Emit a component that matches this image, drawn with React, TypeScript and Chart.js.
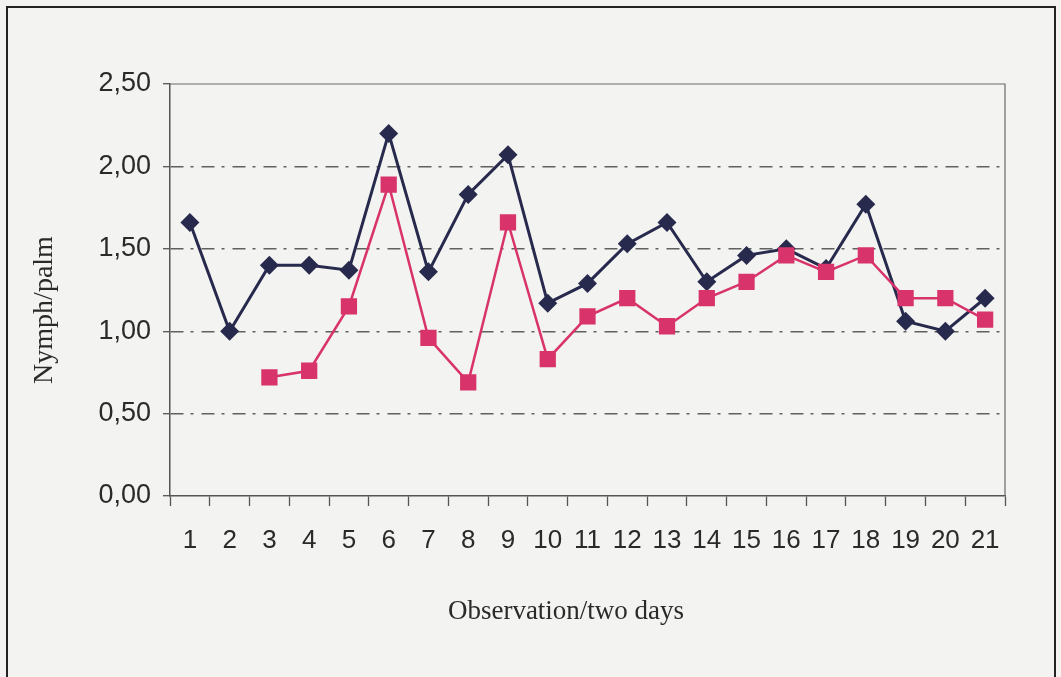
import React, { useEffect, useRef } from "react";
import { Chart, registerables } from "chart.js";

Chart.register(...registerables);

const categories: string[] = ["1","2","3","4","5","6","7","8","9","10","11","12","13","14","15","16","17","18","19","20","21"];
const seriesNavy: (number | null)[] = [1.66,1.00,1.40,1.40,1.37,2.20,1.36,1.83,2.07,1.17,1.29,1.53,1.66,1.30,1.46,1.50,1.38,1.77,1.06,1.00,1.20];
const seriesPink: (number | null)[] = [null,null,0.72,0.76,1.15,1.89,0.96,0.69,1.66,0.83,1.09,1.20,1.03,1.20,1.30,1.46,1.36,1.46,1.20,1.20,1.07];
const yTitle = "Nymph/palm";
const xTitle = "Observation/two days";

const NAVY = "#272a4c";
const PINK = "#d8336b";
const AXIS = "#555555";
const TEXT = "#2a2a2a";
const SANS = '"Liberation Sans", Arial, sans-serif';
const SERIF = '"Liberation Serif", "Times New Roman", serif';

const framePlugin = {
  id: "frameAndTitles",
  beforeDatasetsDraw(chart: any) {
    const { ctx, chartArea } = chart;
    ctx.save();
    ctx.strokeStyle = "#6a6a6a";
    ctx.lineWidth = 1.2;
    ctx.beginPath();
    ctx.moveTo(chartArea.left, chartArea.top);
    ctx.lineTo(chartArea.right, chartArea.top);
    ctx.lineTo(chartArea.right, chartArea.bottom);
    ctx.stroke();
    ctx.restore();
  },
  afterDraw(chart: any) {
    const { ctx } = chart;
    ctx.save();
    ctx.fillStyle = TEXT;
    ctx.font = `27px ${SERIF}`;
    ctx.textAlign = "center";
    ctx.textBaseline = "middle";
    ctx.fillText(xTitle, 566, 612);
    ctx.translate(45, 310);
    ctx.rotate(-Math.PI / 2);
    ctx.font = `28px ${SERIF}`;
    ctx.fillText(yTitle, 0, 0);
    ctx.restore();
  },
};

export default function App() {
  const ref = useRef<HTMLCanvasElement | null>(null);
  useEffect(() => {
    if (!ref.current) return;
    const chart = new Chart(ref.current, {
      type: "line",
      data: {
        labels: categories,
        datasets: [
          {
            label: "B",
            data: seriesPink,
            borderColor: PINK,
            backgroundColor: PINK,
            borderWidth: 2.5,
            pointStyle: "rect",
            pointRadius: 11.5,
            pointHoverRadius: 11.5,
            pointBorderWidth: 0,
            tension: 0,
            spanGaps: false,
          },
          {
            label: "A",
            data: seriesNavy,
            borderColor: NAVY,
            backgroundColor: NAVY,
            borderWidth: 3,
            pointStyle: "rectRot",
            pointRadius: 9.5,
            pointHoverRadius: 9.5,
            pointBorderWidth: 0,
            tension: 0,
          },
        ],
      },
      options: {
        animation: false,
        responsive: false,
        maintainAspectRatio: false,
        layout: { padding: { left: 0, top: 84, right: 56, bottom: 0 } },
        plugins: { legend: { display: false }, tooltip: { enabled: false }, title: { display: false } },
        scales: {
          x: {
            type: "category",
            offset: true,
            afterFit: (s: any) => { s.height = 181; },
            grid: {
              offset: true,
              drawOnChartArea: false,
              drawTicks: true,
              tickLength: 10,
              tickColor: AXIS,
              tickWidth: 1.3,
            },
            border: { display: true, color: AXIS, width: 1.5 },
            ticks: {
              color: TEXT,
              font: { family: SANS, size: 26 },
              padding: 19,
              maxRotation: 0,
              autoSkip: false,
            },
          },
          y: {
            min: 0,
            max: 2.5,
            afterFit: (s: any) => { s.width = 170; },
            grid: {
              color: (c: any) => (c.tick && (c.tick.value === 0 || c.tick.value === 2.5) ? "rgba(0,0,0,0)" : "#606060"),
              lineWidth: 1.4,
              drawTicks: true,
              tickLength: 7,
              tickColor: AXIS,
              tickWidth: 1.3,
            },
            border: { display: true, color: AXIS, width: 1.5, dash: [13, 7, 3, 8] },
            ticks: {
              stepSize: 0.5,
              color: TEXT,
              font: { family: SANS, size: 27 },
              padding: 12,
              callback: (v: any) => Number(v).toFixed(2).replace(".", ","),
            },
          },
        },
      },
      plugins: [framePlugin],
    });
    return () => chart.destroy();
  }, []);

  return (
    <div style={{ position: "fixed", left: 0, top: 0, width: 1061, height: 677, background: "#f3f3f1", overflow: "hidden" }}>
      <canvas ref={ref} width={1061} height={677} style={{ position: "absolute", left: 0, top: 0, width: 1061, height: 677 }} />
      <div style={{ position: "absolute", left: 6, top: 6, width: 1046, height: 720, border: "2px solid #222", pointerEvents: "none" }} />
    </div>
  );
}
